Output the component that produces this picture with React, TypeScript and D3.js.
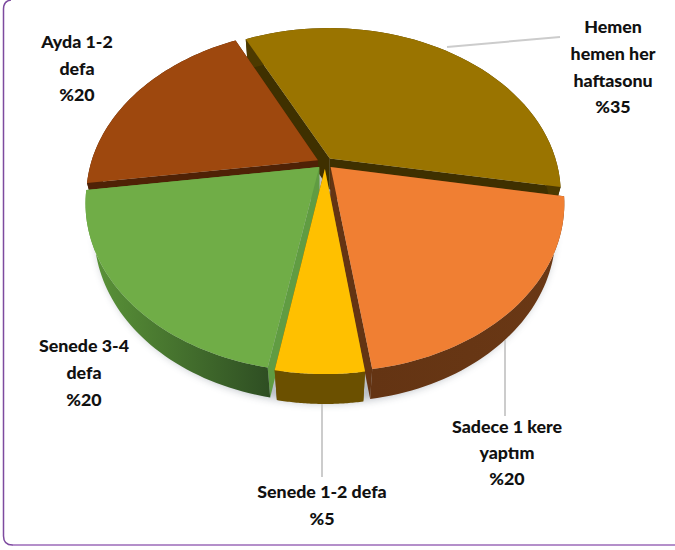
import React, { useEffect, useRef } from 'react';
import * as d3 from 'd3';

// Reader frequency, clockwise from the top slice
const categories = ['Hemen hemen her haftasonu', 'Sadece 1 kere yaptım', 'Senede 1-2 defa', 'Senede 3-4 defa', 'Ayda 1-2 defa'];
const shares = [35, 20, 5, 20, 20];

const topColors = ['#9a7400', '#f07f33', '#ffc000', '#70ad47', '#9e480e'];
const radialColors = ['#3f3000', '#643413', '#6b5000', '#609c42', '#4f2206'];
const wallStart = ['#4d3a00', '#643413', '#6b5000', '#5c9639', '#4f2206'];
const wallEnd = ['#4d3a00', '#6a3815', '#6b5000', '#2f4f23', '#4f2206'];

const labelLines = [
  ['Hemen', 'hemen her', 'haftasonu', '%35'],
  ['Sadece 1 kere', 'yaptım', '%20'],
  ['Senede 1-2 defa', '%5'],
  ['Senede 3-4', 'defa', '%20'],
  ['Ayda 1-2', 'defa', '%20'],
];

const labelSpots = [
  { x: 613, y: 33, gap: 26.8 },
  { x: 507, y: 433, gap: 26 },
  { x: 322, y: 498, gap: 27 },
  { x: 84, y: 352, gap: 27 },
  { x: 77, y: 48, gap: 26.5 },
];

const leaders = [
  [[447, 47], [560, 37]],
  [[505, 340], [505, 416]],
  [[322, 400], [322, 477]],
];

const width = 675;
const height = 550;
const cx = 325;
const cy = 163;
const radius = 227;
const explode = 8;
const depth = 31;
const baseShrink = 0.965;
const squash = 161 / 229;
const perspective = 0.21;

// ground point -> screen, far side of the pie comes out smaller
const project = (u: number, v: number, drop = 0): [number, number] => {
  const w = 1 / (1 + (perspective * -v) / radius);
  return [cx + u * w, cy + v * squash * w + drop * w];
};

const App: React.FC = () => {
  const svgRef = useRef<SVGSVGElement>(null);

  useEffect(() => {
    if (!svgRef.current) return;

    const svg = d3.select(svgRef.current);
    svg.selectAll('*').remove();

    const defs = svg.append('defs');
    defs.append('filter')
      .attr('id', 'pieShadow')
      .attr('x', '-20%').attr('y', '-20%').attr('width', '140%').attr('height', '140%')
      .append('feGaussianBlur')
      .attr('stdDeviation', 4);

    // Frame, open at the top and right like the page it was cut from
    svg.append('path')
      .attr('d', `M12,545 H${width}`)
      .attr('fill', 'none')
      .attr('stroke', '#b48fca')
      .attr('stroke-width', 2);
    svg.append('path')
      .attr('d', 'M11,0 Q3.5,1 3.5,9 V536 Q3.5,545 12.5,545')
      .attr('fill', 'none')
      .attr('stroke', '#7d4a9f')
      .attr('stroke-width', 1.5);

    const pie = d3.pie<number>()
      .sort(null)
      .startAngle((-26 * Math.PI) / 180)
      .endAngle((334 * Math.PI) / 180);
    const arcs = pie(shares);

    const line = d3.line<[number, number]>();

    const ring = (a: d3.PieArcDatum<number>, drop: number) => {
      const mid = (a.startAngle + a.endAngle) / 2;
      const ox = Math.sin(mid) * explode;
      const oy = -Math.cos(mid) * explode;
      // the underside sits further from the camera, so it reads a bit smaller
      const s = drop > 0 ? baseShrink : 1;
      const steps = d3.range(0, 49).map((i) => a.startAngle + ((a.endAngle - a.startAngle) * i) / 48);
      return {
        apex: project(ox * s, oy * s, drop),
        edge: steps.map((t) => project((ox + Math.sin(t) * radius) * s, (oy - Math.cos(t) * radius) * s, drop)),
      };
    };

    // Soft shadow below the pie
    const shadowPts = d3.range(0, 121).map((i) => {
      const t = (i / 120) * 2 * Math.PI;
      return project(Math.sin(t) * (radius - 3), -Math.cos(t) * (radius - 3), depth + 2);
    });
    svg.append('path')
      .attr('d', line(shadowPts))
      .attr('fill', '#3a4a5a')
      .attr('opacity', 0.35)
      .attr('filter', 'url(#pieShadow)');

    // Leader lines
    leaders.forEach((pts) => {
      svg.append('path')
        .attr('d', line(pts as [number, number][]))
        .attr('fill', 'none')
        .attr('stroke', '#cccccc')
        .attr('stroke-width', 2);
    });

    // Back slices first so the front ones cover them
    const drawOrder = [0, 4, 3, 1, 2];
    drawOrder.forEach((i) => {
      const a = arcs[i];
      const top = ring(a, 0);
      const bottom = ring(a, depth);
      const g = svg.append('g').attr('class', 'slice').attr('data-category', categories[i]);

      const xs = top.edge.map((p) => p[0]);
      const grad = defs.append('linearGradient')
        .attr('id', `wall${i}`)
        .attr('gradientUnits', 'userSpaceOnUse')
        .attr('x1', d3.min(xs)!).attr('x2', d3.max(xs)!)
        .attr('y1', 0).attr('y2', 0);
      // green darkens towards the front of the pie
      grad.append('stop').attr('offset', 0).attr('stop-color', wallStart[i]);
      grad.append('stop').attr('offset', 1).attr('stop-color', wallEnd[i]);

      const n = top.edge.length - 1;
      const sideA = [top.apex, top.edge[0], bottom.edge[0], bottom.apex];
      const sideB = [top.apex, top.edge[n], bottom.edge[n], bottom.apex];
      [sideA, sideB].forEach((pts) => {
        g.append('path').attr('d', `${line(pts)}Z`).attr('fill', radialColors[i]);
      });

      g.append('path')
        .attr('d', `${line([...top.edge, ...[...bottom.edge].reverse()])}Z`)
        .attr('fill', `url(#wall${i})`);

      g.append('path')
        .attr('d', `${line([top.apex, ...top.edge])}Z`)
        .attr('fill', topColors[i]);
    });

    // Labels
    labelLines.forEach((lines, i) => {
      const spot = labelSpots[i];
      lines.forEach((txt, k) => {
        svg.append('text')
          .attr('x', spot.x)
          .attr('y', spot.y + k * spot.gap)
          .attr('text-anchor', 'middle')
          .attr('font-family', 'Lato, sans-serif')
          .attr('font-weight', 900)
          .attr('font-size', 17.8)
          .attr('fill', '#111')
          .text(txt);
      });
    });
  }, []);

  return (
    <svg
      ref={svgRef}
      width={width}
      height={height}
      style={{ position: 'absolute', left: 0, top: 0, background: '#fff' }}
    />
  );
};

export default App;
